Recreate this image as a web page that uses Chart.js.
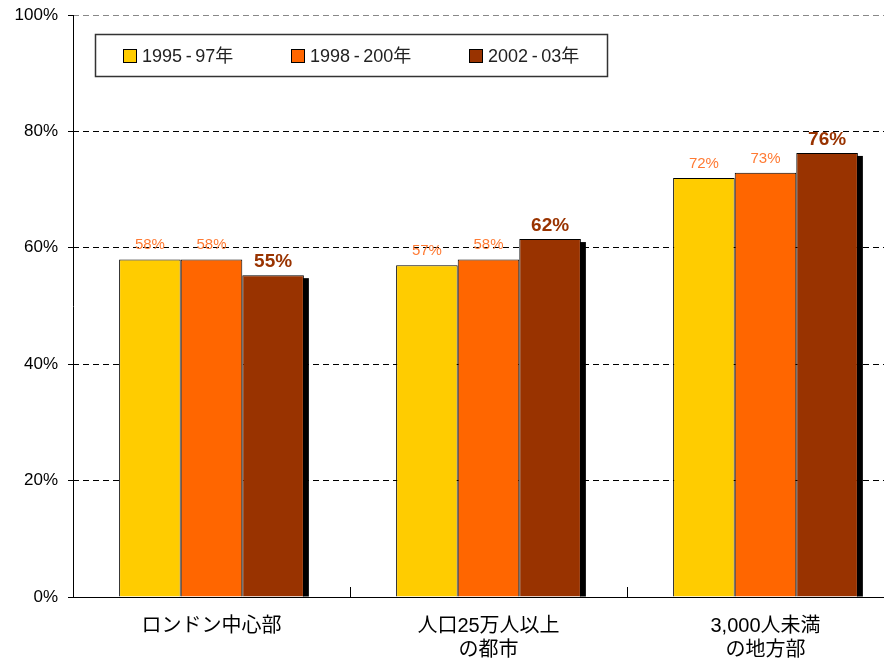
<!DOCTYPE html>
<html>
<head>
<meta charset="utf-8">
<script src="https://cdn.jsdelivr.net/npm/chart.js@4/dist/chart.umd.min.js"></script>
<style>
  html, body { margin: 0; padding: 0; background: #fff; overflow: hidden; }
  #wrap { width: 904px; height: 658px; position: relative; }
</style>
</head>
<body>
<div id="wrap"><canvas id="grafico"></canvas></div>
<script>
// categorias e séries
const categorias = [["ロンドン中心部"], ["人口25万人以上", "の都市"], ["3,000人未満", "の地方部"]];
const serieNomes = ["1995-97年", "1998-200年", "2002-03年"];
const serie1 = [58, 57, 72];
const serie2 = [58, 58, 72.9];
const serie3 = [55.3, 61.5, 76.3];
const yTicks = [0, 20, 40, 60, 80, 100];

const cores = ["#FFCC00", "#FF6600", "#993300"];
const fonte = "'Liberation Sans', Arial, 'Noto Sans CJK JP', sans-serif";

// sombra preta atrás da terceira série
const sombraPlugin = {
  id: "sombra",
  beforeDatasetDraw(chart, args) {
    if (args.index !== 2) return;
    const ctx = chart.ctx;
    const area = chart.chartArea;
    ctx.save();
    ctx.fillStyle = "#000";
    args.meta.data.forEach((bar) => {
      const p = bar.getProps(["x", "y", "width", "base"], true);
      const right = p.x + p.width / 2;
      ctx.fillRect(right - 1, p.y + 3, 6, Math.min(p.base, area.bottom) - p.y - 3);
    });
    ctx.restore();
  }
};

// rótulos de valores, eixos, marcas entre categorias e legenda
const extrasPlugin = {
  id: "extras",
  afterDatasetsDraw(chart) {
    const ctx = chart.ctx;
    const area = chart.chartArea;
    ctx.save();
    chart.data.datasets.forEach((ds, i) => {
      const meta = chart.getDatasetMeta(i);
      meta.data.forEach((bar, j) => {
        const txt = Math.round(ds.data[j]) + "%";
        ctx.textAlign = "center";
        ctx.textBaseline = "alphabetic";
        if (i === 2) {
          ctx.font = "bold 19px " + fonte;
          ctx.fillStyle = "#993300";
          ctx.fillText(txt, bar.x, bar.y - 8);
        } else {
          ctx.font = "15px " + fonte;
          ctx.fillStyle = "#FF7A33";
          ctx.fillText(txt, bar.x, bar.y - 10);
        }
      });
    });

    // eixo y sólido
    ctx.strokeStyle = "#000";
    ctx.lineWidth = 1;
    ctx.beginPath();
    ctx.moveTo(Math.round(area.left) + 0.5, area.top);
    ctx.lineTo(Math.round(area.left) + 0.5, area.bottom + 1);
    ctx.stroke();

    // marcas entre categorias
    const x = chart.scales.x;
    for (let i = 0; i < categorias.length - 1; i++) {
      const px = Math.round((x.getPixelForValue(i) + x.getPixelForValue(i + 1)) / 2) + 0.5;
      ctx.beginPath();
      ctx.moveTo(px, area.bottom);
      ctx.lineTo(px, area.bottom - 10);
      ctx.stroke();
    }

    // legenda
    const lx = 95, ly = 34, lw = 512, lh = 42;
    ctx.fillStyle = "#fff";
    ctx.fillRect(lx, ly, lw, lh);
    ctx.strokeStyle = "#333";
    ctx.lineWidth = 1.5;
    ctx.strokeRect(lx + 0.5, ly + 0.5, lw, lh);
    const posX = [123, 291, 469];
    ctx.font = "18px " + fonte;
    ctx.textAlign = "left";
    ctx.textBaseline = "middle";
    chart.data.datasets.forEach((ds, i) => {
      ctx.fillStyle = ds.backgroundColor;
      ctx.fillRect(posX[i], 49, 14, 14);
      ctx.strokeStyle = "#000";
      ctx.lineWidth = 1;
      ctx.strokeRect(posX[i] + 0.5, 49.5, 13, 13);
      ctx.fillStyle = "#222";
      ctx.fillText(ds.label.replace("-", "\u2009-\u2009"), posX[i] + 19, 57);
    });
    ctx.restore();
  }
};

const dados = [serie1, serie2, serie3];

new Chart(document.getElementById("grafico").getContext("2d"), {
  type: "bar",
  data: {
    labels: categorias,
    datasets: serieNomes.map((nome, i) => ({
      label: nome,
      data: dados[i],
      backgroundColor: cores[i],
      borderColor: "#000",
      borderWidth: 1,
      categoryPercentage: 0.667,
      barPercentage: 1
    }))
  },
  options: {
    responsive: true,
    maintainAspectRatio: false,
    animation: false,
    layout: { padding: { top: 15, left: 0, right: 0, bottom: 0 } },
    plugins: { legend: { display: false }, tooltip: { enabled: false } },
    scales: {
      y: {
        min: 0,
        max: 100,
        afterBuildTicks: (s) => { s.ticks = yTicks.map((v) => ({ value: v })); },
        afterFit: (s) => { s.width = 73; s.paddingTop = 0; s.paddingBottom = 0; },
        ticks: {
          callback: (v) => v + "%",
          color: "#000",
          font: { family: fonte, size: 17 },
          padding: 10
        },
        grid: {
          color: (c) => (c.tick && c.tick.value === 100 ? "#888" : "#000"),
          tickLength: 5,
          tickColor: "#000"
        },
        border: { display: false, dash: [6, 4] }
      },
      x: {
        afterFit: (s) => { s.height = 61; },
        ticks: {
          color: "#000",
          font: { family: fonte, size: 20, lineHeight: 1.2 },
          padding: 17,
          maxRotation: 0
        },
        grid: { display: false, drawTicks: false },
        border: { display: true, color: "#000", width: 1 }
      }
    }
  },
  plugins: [sombraPlugin, extrasPlugin]
});
</script>
</body>
</html>
